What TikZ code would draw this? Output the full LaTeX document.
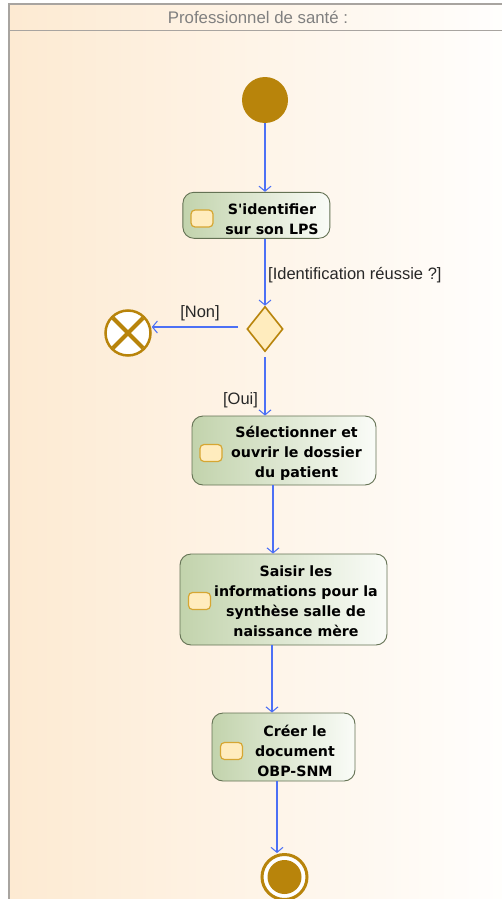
\documentclass[tikz,border=0pt]{standalone}
\usepackage{fontspec}
\setmainfont{Liberation Sans}
\newfontfamily\actfont{DejaVu Sans}
\usetikzlibrary{arrows.meta,shapes.geometric,calc}
\definecolor{laneL}{RGB}{253,234,210}
\definecolor{laneR}{RGB}{255,255,255}
\definecolor{laneborder}{RGB}{168,164,160}
\definecolor{hdrtext}{RGB}{128,128,128}
\definecolor{actL}{RGB}{194,211,172}
\definecolor{actR}{RGB}{250,252,248}
\definecolor{actborder}{RGB}{100,114,84}
\definecolor{iconfill}{RGB}{255,236,190}
\definecolor{iconborder}{RGB}{214,166,50}
\definecolor{gold}{RGB}{184,132,11}
\definecolor{flowblue}{RGB}{76,112,245}
\definecolor{lbl}{RGB}{40,40,40}
\tikzset{
  lane/.style={draw=laneborder, line width=1.8pt},
  actbox/.style={draw=actborder, line width=0.9pt, rounded corners=11pt,
    left color=actL, right color=actR, inner sep=0pt},
  acttxt/.style={font=\actfont\bfseries\fontsize{14.2}{20}\selectfont, align=center,
    inner sep=0pt, text=black},
  icon/.style={draw=iconborder, line width=1.2pt, fill=iconfill, rounded corners=4pt,
    minimum width=22pt, minimum height=17pt, inner sep=0pt},
  flow/.style={draw=flowblue, line width=1.05pt, -{Straight Barb[length=5pt,width=12pt]}},
  guard/.style={font=\fontsize{16.5}{19}\selectfont, text=lbl, inner sep=0pt},
}
\begin{document}
\begin{tikzpicture}[x=1pt,y=-1pt]
\useasboundingbox (0,0) rectangle (502,899);
% swimlane
\shade[left color=laneL, right color=laneR] (9,4) rectangle (530,910);
\draw[lane] (9,910) -- (9,4) -- (530,4);
\draw[lane, line width=1pt] (9,31) -- (530,31);
\node[font=\fontsize{16.8}{19}\selectfont, text=hdrtext, inner sep=0pt] (title) at (258,17) {Professionnel de santé :};

% column coordinates
\coordinate (c265) at (265,0);
\coordinate (c273) at (273,0);
\coordinate (c272) at (272,0);
\coordinate (c277) at (277,0);

% initial
\node[circle, fill=gold, minimum size=46pt, inner sep=0pt] (init) at (265,100) {};

% action 1
\node[actbox, minimum width=147pt, minimum height=46pt] (a1) at (256.4,215.3) {};
\node[icon] (i1) at (202,218.5) {};
\node[acttxt] (t1) at (272,219.5) {S'identifier\\sur son LPS};

% decision
\node[diamond, draw=gold, line width=1.6pt, fill=iconfill, minimum width=36pt, minimum height=45pt, inner sep=0pt] (dec) at (265,329) {};

% flow final
\node[circle, draw=gold, line width=2.5pt, fill=white, minimum size=45pt, inner sep=0pt] (ff) at (128,333) {};
\draw[gold, line width=4pt] ($(ff.center)!0.9!(ff.north west)$) -- ($(ff.center)!0.9!(ff.south east)$);
\draw[gold, line width=4pt] ($(ff.center)!0.9!(ff.north east)$) -- ($(ff.center)!0.9!(ff.south west)$);

% action 2
\node[actbox, minimum width=184pt, minimum height=69pt] (a2) at (284,450.5) {};
\node[icon] (i2) at (211,453) {};
\node[acttxt] (t2) at (296.5,453) {Sélectionner et\\ouvrir le dossier\\du patient};

% action 3
\node[actbox, minimum width=207pt, minimum height=91pt] (a3) at (283.5,599.5) {};
\node[icon] (i3) at (199.5,601) {};
\node[acttxt] (t3) at (296,601) {Saisir les\\informations pour la\\synthèse salle de\\naissance mère};

% action 4
\node[actbox, minimum width=143pt, minimum height=68pt] (a4) at (283.5,747) {};
\node[icon] (i4) at (231.5,751) {};
\node[acttxt] (t4) at (295,751) {Créer le\\document\\OBP-SNM};

% final
\node[circle, draw=gold, line width=3pt, fill=white, minimum size=45pt, inner sep=0pt] (fin) at (284.5,877) {};
\node[circle, fill=gold, minimum size=34pt, inner sep=0pt] (fin2) at (fin) {};

% flows
\draw[flow] (init.south) -- (init.south |- a1.north);
\draw[flow] (a1.south -| c265) -- (dec.north);
\node[guard, anchor=west] (g1) at (268,275) {[Identification réussie ?]};
\draw[flow] ([xshift=-8pt,yshift=2pt]dec.west) -- (ff.east |- 0,327);
\node[guard] (g2) at (200,313) {[Non]};
\draw[flow] ([yshift=-5pt]dec.south) -- (dec.south |- a2.north);
\node[guard] (g3) at (240.5,400) {[Oui]};
\draw[flow] (a2.south -| c273) -- (a3.north -| c273);
\draw[flow] (a3.south -| c272) -- (a4.north -| c272);
\draw[flow] (a4.south -| c277) -- (c277 |- fin.north);
\end{tikzpicture}
\end{document}
